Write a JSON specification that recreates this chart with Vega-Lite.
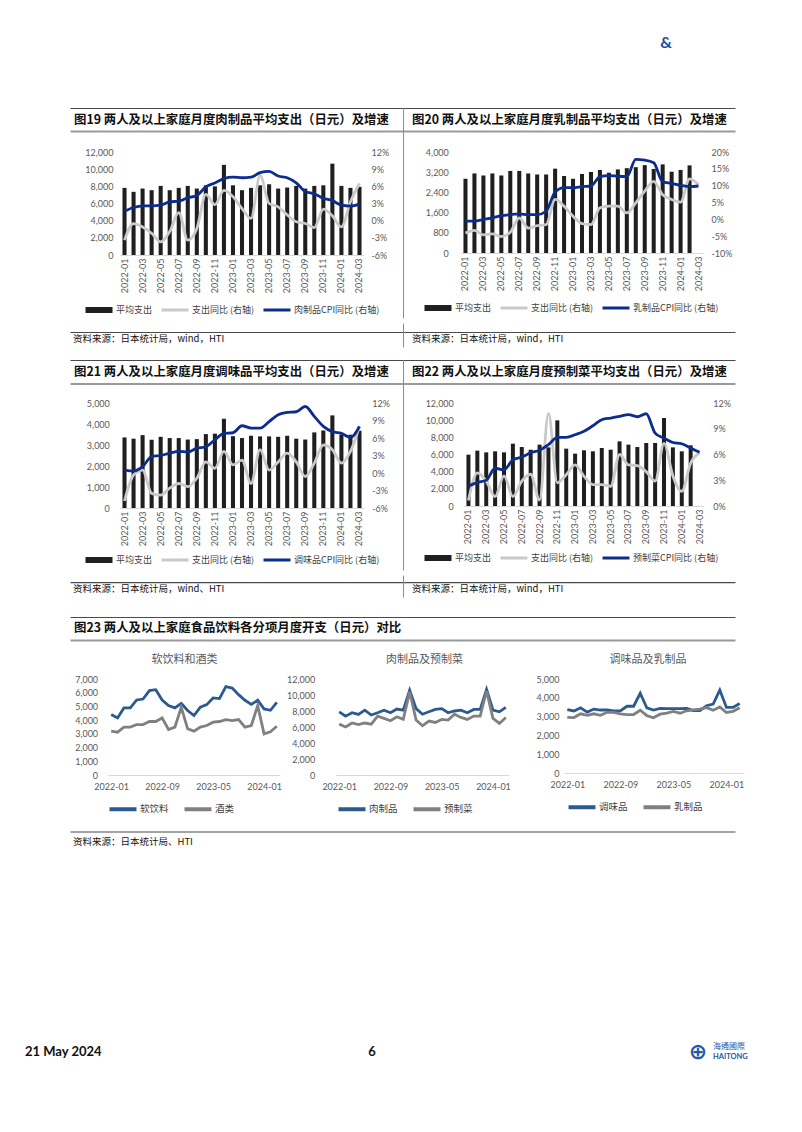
{
"$schema": "https://vega.github.io/schema/vega-lite/v6.json",
"background": "white",
"padding": {"left": 25, "top": 35, "right": 0, "bottom": 0},
"title": {"text": "21 May 2024", "orient": "bottom", "anchor": "start", "dx": -45, "offset": -19.5, "baseline": "top", "font": "Lato", "fontSize": 13, "fontWeight": "bold", "color": "#111111"},
"config": {
  "view": {"stroke": null},
  "axis": {"labelFont": "Lato", "labelFontSize": 9, "labelColor": "#595959", "grid": false},
  "legend": {"layout": {"bottom": {"anchor": "middle"}}, "labelLimit": 300}
},
"datasets": {
"f19": [
{"m":"2022-01","spend":7820,"yoy":-3.4,"cpi":1.65},{"m":"2022-02","spend":7360,"yoy":-0.5,"cpi":2.3},{"m":"2022-03","spend":7740,"yoy":-1.1,"cpi":2.6},{"m":"2022-04","spend":7550,"yoy":-2.2,"cpi":2.6},{"m":"2022-05","spend":8050,"yoy":-3.7,"cpi":2.7},{"m":"2022-06","spend":7550,"yoy":-1.9,"cpi":3.3},{"m":"2022-07","spend":7820,"yoy":1.4,"cpi":3.4},{"m":"2022-08","spend":8050,"yoy":-3.4,"cpi":4.0},{"m":"2022-09","spend":7740,"yoy":-1.4,"cpi":4.4},{"m":"2022-10","spend":8120,"yoy":4.6,"cpi":5.9},{"m":"2022-11","spend":8000,"yoy":2.8,"cpi":6.6},{"m":"2022-12","spend":10500,"yoy":5.3,"cpi":7.35},{"m":"2023-01","spend":8120,"yoy":4.2,"cpi":7.6},{"m":"2023-02","spend":7550,"yoy":2.1,"cpi":7.5},{"m":"2023-03","spend":7820,"yoy":0.4,"cpi":7.6},{"m":"2023-04","spend":8120,"yoy":7.9,"cpi":8.4},{"m":"2023-05","spend":8240,"yoy":3.0,"cpi":8.6},{"m":"2023-06","spend":7740,"yoy":2.4,"cpi":7.8},{"m":"2023-07","spend":7860,"yoy":1.0,"cpi":7.5},{"m":"2023-08","spend":8050,"yoy":-0.2,"cpi":6.6},{"m":"2023-09","spend":7740,"yoy":-0.5,"cpi":5.1},{"m":"2023-10","spend":8050,"yoy":-1.2,"cpi":4.7},{"m":"2023-11","spend":8120,"yoy":2.0,"cpi":3.9},{"m":"2023-12","spend":10640,"yoy":0.85,"cpi":3.5},{"m":"2024-01","spend":8050,"yoy":-1.1,"cpi":2.7},{"m":"2024-02","spend":7820,"yoy":3.3,"cpi":2.55},{"m":"2024-03","spend":7940,"yoy":6.5,"cpi":2.9}],
"f20": [
{"m":"2022-01","spend":2940,"yoy":-4.1,"cpi":-0.55},{"m":"2022-02","spend":3150,"yoy":-3.3,"cpi":-0.55},{"m":"2022-03","spend":3070,"yoy":-4.6,"cpi":-0.05},{"m":"2022-04","spend":3150,"yoy":-4.3,"cpi":0.45},{"m":"2022-05","spend":3070,"yoy":-5.1,"cpi":1.1},{"m":"2022-06","spend":3250,"yoy":-3.8,"cpi":1.4},{"m":"2022-07","spend":3250,"yoy":0.4,"cpi":1.6},{"m":"2022-08","spend":3150,"yoy":-2.6,"cpi":1.4},{"m":"2022-09","spend":3110,"yoy":-1.9,"cpi":1.4},{"m":"2022-10","spend":3110,"yoy":-1.6,"cpi":2.4},{"m":"2022-11","spend":3340,"yoy":5.9,"cpi":8.1},{"m":"2022-12","spend":3050,"yoy":3.9,"cpi":9.4},{"m":"2023-01","spend":2940,"yoy":0.9,"cpi":9.4},{"m":"2023-02","spend":3130,"yoy":-1.3,"cpi":9.7},{"m":"2023-03","spend":3210,"yoy":-1.6,"cpi":9.9},{"m":"2023-04","spend":3290,"yoy":3.4,"cpi":12.7},{"m":"2023-05","spend":3180,"yoy":3.9,"cpi":13.0},{"m":"2023-06","spend":3310,"yoy":3.9,"cpi":12.8},{"m":"2023-07","spend":3360,"yoy":1.9,"cpi":12.7},{"m":"2023-08","spend":3400,"yoy":4.9,"cpi":17.8},{"m":"2023-09","spend":3480,"yoy":8.4,"cpi":17.6},{"m":"2023-10","spend":3330,"yoy":11.3,"cpi":16.8},{"m":"2023-11","spend":3510,"yoy":7.3,"cpi":11.1},{"m":"2023-12","spend":3220,"yoy":5.9,"cpi":10.7},{"m":"2024-01","spend":3290,"yoy":5.1,"cpi":10.1},{"m":"2024-02","spend":3470,"yoy":12.0,"cpi":9.7},{"m":"2024-03","spend":null,"yoy":10.3,"cpi":9.9}],
"f21": [
{"m":"2022-01","spend":3360,"yoy":-4.8,"cpi":0.5},{"m":"2022-02","spend":3300,"yoy":-0.35,"cpi":0.35},{"m":"2022-03","spend":3470,"yoy":0.5,"cpi":1.1},{"m":"2022-04","spend":3250,"yoy":-3.5,"cpi":2.8},{"m":"2022-05","spend":3390,"yoy":-3.8,"cpi":3.0},{"m":"2022-06","spend":3330,"yoy":-2.6,"cpi":3.4},{"m":"2022-07","spend":3330,"yoy":-1.8,"cpi":3.7},{"m":"2022-08","spend":3260,"yoy":-2.35,"cpi":3.6},{"m":"2022-09","spend":3280,"yoy":-0.9,"cpi":4.25},{"m":"2022-10","spend":3520,"yoy":1.9,"cpi":4.5},{"m":"2022-11","spend":3540,"yoy":0.8,"cpi":5.7},{"m":"2022-12","spend":4250,"yoy":3.7,"cpi":6.8},{"m":"2023-01","spend":3420,"yoy":1.4,"cpi":6.9},{"m":"2023-02","spend":3330,"yoy":2.2,"cpi":8.1},{"m":"2023-03","spend":3440,"yoy":-1.8,"cpi":7.7},{"m":"2023-04","spend":3410,"yoy":4.0,"cpi":7.7},{"m":"2023-05","spend":3410,"yoy":0.5,"cpi":8.8},{"m":"2023-06","spend":3390,"yoy":1.9,"cpi":10.0},{"m":"2023-07","spend":3440,"yoy":3.4,"cpi":10.4},{"m":"2023-08","spend":3300,"yoy":1.9,"cpi":10.5},{"m":"2023-09","spend":3260,"yoy":-0.6,"cpi":11.4},{"m":"2023-10","spend":3600,"yoy":1.7,"cpi":9.7},{"m":"2023-11","spend":3690,"yoy":4.8,"cpi":8.0},{"m":"2023-12","spend":4410,"yoy":4.0,"cpi":7.1},{"m":"2024-01","spend":3490,"yoy":1.7,"cpi":6.8},{"m":"2024-02","spend":3490,"yoy":3.7,"cpi":6.1},{"m":"2024-03","spend":3680,"yoy":8.0,"cpi":8.0}],
"f22": [
{"m":"2022-01","spend":5980,"yoy":0.65,"cpi":2.3},{"m":"2022-02","spend":6450,"yoy":3.85,"cpi":2.75},{"m":"2022-03","spend":6250,"yoy":2.9,"cpi":3.0},{"m":"2022-04","spend":6370,"yoy":1.1,"cpi":4.4},{"m":"2022-05","spend":6250,"yoy":3.5,"cpi":4.2},{"m":"2022-06","spend":7260,"yoy":1.1,"cpi":5.4},{"m":"2022-07","spend":6870,"yoy":2.9,"cpi":5.7},{"m":"2022-08","spend":6560,"yoy":3.7,"cpi":6.2},{"m":"2022-09","spend":7150,"yoy":0.7,"cpi":6.5},{"m":"2022-10","spend":6830,"yoy":10.8,"cpi":7.15},{"m":"2022-11","spend":9980,"yoy":2.7,"cpi":8.0},{"m":"2022-12","spend":6680,"yoy":3.65,"cpi":8.0},{"m":"2023-01","spend":6100,"yoy":4.8,"cpi":8.3},{"m":"2023-02","spend":6490,"yoy":3.45,"cpi":8.7},{"m":"2023-03","spend":6370,"yoy":2.5,"cpi":9.35},{"m":"2023-04","spend":6760,"yoy":2.5,"cpi":10.05},{"m":"2023-05","spend":6560,"yoy":2.3,"cpi":10.25},{"m":"2023-06","spend":7530,"yoy":6.0,"cpi":10.45},{"m":"2023-07","spend":7150,"yoy":4.8,"cpi":10.65},{"m":"2023-08","spend":6870,"yoy":4.7,"cpi":10.4},{"m":"2023-09","spend":7340,"yoy":4.0,"cpi":10.75},{"m":"2023-10","spend":7340,"yoy":2.9,"cpi":8.5},{"m":"2023-11","spend":10250,"yoy":7.3,"cpi":7.9},{"m":"2023-12","spend":6830,"yoy":3.5,"cpi":7.4},{"m":"2024-01","spend":6370,"yoy":1.7,"cpi":7.25},{"m":"2024-02","spend":7070,"yoy":5.0,"cpi":6.75},{"m":"2024-03","spend":null,"yoy":6.2,"cpi":6.25}],
"f23": [
{"m":"2022-01","soft":4410,"alcohol":3200,"meat":7900,"prepared":6360,"seasoning":3370,"dairy":2960},
{"m":"2022-02","soft":4160,"alcohol":3120,"meat":7360,"prepared":6000,"seasoning":3300,"dairy":2950},
{"m":"2022-03","soft":4890,"alcohol":3490,"meat":7780,"prepared":6500,"seasoning":3470,"dairy":3150},
{"m":"2022-04","soft":4890,"alcohol":3490,"meat":7570,"prepared":6300,"seasoning":3240,"dairy":3070},
{"m":"2022-05","soft":5470,"alcohol":3680,"meat":8100,"prepared":6500,"seasoning":3400,"dairy":3150},
{"m":"2022-06","soft":5540,"alcohol":3680,"meat":7500,"prepared":6360,"seasoning":3350,"dairy":3070},
{"m":"2022-07","soft":6150,"alcohol":3900,"meat":7780,"prepared":7360,"seasoning":3350,"dairy":3230},
{"m":"2022-08","soft":6220,"alcohol":3900,"meat":8100,"prepared":7070,"seasoning":3300,"dairy":3230},
{"m":"2022-09","soft":5470,"alcohol":4160,"meat":7780,"prepared":6780,"seasoning":3300,"dairy":3140},
{"m":"2022-10","soft":5060,"alcohol":3320,"meat":8240,"prepared":7280,"seasoning":3550,"dairy":3110},
{"m":"2022-11","soft":4890,"alcohol":3490,"meat":8100,"prepared":6950,"seasoning":3550,"dairy":3110},
{"m":"2022-12","soft":5230,"alcohol":4940,"meat":10600,"prepared":10400,"seasoning":4240,"dairy":3340},
{"m":"2023-01","soft":4700,"alcohol":3370,"meat":8300,"prepared":6860,"seasoning":3460,"dairy":3050},
{"m":"2023-02","soft":4330,"alcohol":3200,"meat":7600,"prepared":6150,"seasoning":3350,"dairy":2940},
{"m":"2023-03","soft":4940,"alcohol":3490,"meat":7900,"prepared":6740,"seasoning":3440,"dairy":3130},
{"m":"2023-04","soft":5130,"alcohol":3610,"meat":8200,"prepared":6570,"seasoning":3420,"dairy":3190},
{"m":"2023-05","soft":5620,"alcohol":3850,"meat":8300,"prepared":6950,"seasoning":3420,"dairy":3280},
{"m":"2023-06","soft":5570,"alcohol":3900,"meat":7780,"prepared":6860,"seasoning":3420,"dairy":3180},
{"m":"2023-07","soft":6440,"alcohol":4040,"meat":8000,"prepared":7600,"seasoning":3440,"dairy":3310},
{"m":"2023-08","soft":6340,"alcohol":3970,"meat":8100,"prepared":7200,"seasoning":3320,"dairy":3360},
{"m":"2023-09","soft":5860,"alcohol":4040,"meat":7780,"prepared":6950,"seasoning":3320,"dairy":3400},
{"m":"2023-10","soft":5450,"alcohol":3490,"meat":8200,"prepared":7360,"seasoning":3580,"dairy":3480},
{"m":"2023-11","soft":5150,"alcohol":3610,"meat":8200,"prepared":7360,"seasoning":3670,"dairy":3340},
{"m":"2023-12","soft":5450,"alcohol":5060,"meat":10700,"prepared":10500,"seasoning":4410,"dairy":3510},
{"m":"2024-01","soft":4820,"alcohol":3000,"meat":8100,"prepared":7070,"seasoning":3490,"dairy":3220},
{"m":"2024-02","soft":4720,"alcohol":3150,"meat":7900,"prepared":6450,"seasoning":3490,"dairy":3280},
{"m":"2024-03","soft":5300,"alcohol":3550,"meat":8450,"prepared":7200,"seasoning":3700,"dairy":3470}]
},
"spacing": 0,
"resolve": {"scale": {"color": "independent"}},
"vconcat": [
{"spacing": 0, "resolve": {"scale": {"color": "independent"}}, "hconcat": [
 {"width": 333, "height": 113, "data": {"values": [{"t": "图19 两人及以上家庭月度肉制品平均支出（日元）及增速"}]},
  "layer": [
   {"mark": {"type": "text", "align": "left", "baseline": "middle", "font": "Noto Sans CJK SC", "fontWeight": "bold", "fontSize": 12.4, "color": "#111111", "dx": 4, "dy": 28.5},
    "encoding": {"x": {"datum": 0, "type": "quantitative", "scale": {"domain": [0, 1]}, "axis": {"orient": "bottom", "offset": -17, "domainColor": "#9a9a9a", "domainWidth": 2, "labels": false, "ticks": false, "grid": false, "title": null}}, "y": {"datum": 0.5, "type": "quantitative", "scale": {"domain": [0, 1]}, "axis": null}, "text": {"field": "t"}}},
   {"mark": {"type": "text"},
    "encoding": {"x": {"datum": 0, "type": "quantitative", "axis": {"orient": "top", "offset": -73, "domainColor": "#4a4a4a", "domainWidth": 1.2, "labels": false, "ticks": false, "grid": false, "title": null}}, "y": {"datum": 0.5, "type": "quantitative"}, "text": {"value": ""}}}
  ],
  "resolve": {"axis": {"x": "independent"}}},
 {"width": 332, "height": 113, "data": {"values": [{"t": "图20 两人及以上家庭月度乳制品平均支出（日元）及增速", "h": "&"}]},
  "layer": [
   {"mark": {"type": "text", "align": "left", "baseline": "middle", "font": "Noto Sans CJK SC", "fontWeight": "bold", "fontSize": 12.4, "color": "#111111", "dx": 9, "dy": -8},
    "encoding": {"x": {"datum": 0, "type": "quantitative", "scale": {"domain": [0, 1]}, "axis": {"orient": "bottom", "offset": -17, "domainColor": "#9a9a9a", "domainWidth": 2, "labels": false, "ticks": false, "grid": false, "title": null}}, "y": {"datum": 0.5, "type": "quantitative", "scale": {"domain": [0, 1], "range": [113, 73]}, "axis": {"orient": "left", "domain": true, "domainColor": "#8c8c8c", "domainWidth": 1, "labels": false, "ticks": false, "grid": false, "title": null}}, "text": {"field": "t"}}},
   {"mark": {"type": "text"},
    "encoding": {"x": {"datum": 0, "type": "quantitative", "axis": {"orient": "top", "offset": -73, "domainColor": "#4a4a4a", "domainWidth": 1.2, "labels": false, "ticks": false, "grid": false, "title": null}}, "y": {"datum": 0.5, "type": "quantitative"}, "text": {"value": ""}}},
   {"mark": {"type": "text", "align": "center", "baseline": "middle", "font": "Lato", "fontWeight": "bold", "fontSize": 16, "color": "#1f4e9c", "dy": -85},
    "encoding": {"x": {"datum": 0.792, "type": "quantitative", "axis": null}, "y": {"datum": 0.5, "type": "quantitative"}, "text": {"field": "h"}}}
  ],
  "resolve": {"axis": {"x": "independent"}}}
]},
{"spacing": 0, "resolve": {"scale": {"color": "independent"}}, "hconcat": [
 {"width": 333, "height": 103, "data": {"name": "f19"},
  "encoding": {"x": {"field": "m", "type": "ordinal", "scale": {"paddingInner": 0.55, "paddingOuter": 0.275, "range": [50, 294]}, "axis": {"values": ["2022-01","2022-03","2022-05","2022-07","2022-09","2022-11","2023-01","2023-03","2023-05","2023-07","2023-09","2023-11","2024-01","2024-03"], "labelAngle": -90, "labelPadding": 3, "ticks": false, "domainColor": "#d9d9d9", "title": null}}},
  "layer": [
   {"mark": {"type": "bar"},
    "encoding": {
     "y": {"field": "spend", "type": "quantitative", "scale": {"domain": [0, 12000], "nice": false}, "axis": {"values": [0,2000,4000,6000,8000,10000,12000], "format": ",.0f", "offset": -50, "labelPadding": 7, "domain": false, "ticks": false, "title": null}},
     "color": {"datum": "spend", "type": "nominal", "scale": {"domain": ["spend", "yoy", "cpi"], "range": ["#1f1f1f", "#c9c9c9", "#0c2d8e"]},
      "legend": {"orient": "bottom", "direction": "horizontal", "title": null, "offset": 12, "symbolType": "M-2.7,-0.6H2.7V0.6H-2.7Z", "symbolSize": 100, "symbolStrokeWidth": 0, "labelFont": "Noto Sans CJK SC", "labelFontSize": 9, "labelColor": "#404040", "labelOffset": 12, "columnPadding": 8,
       "labelExpr": "datum.value == 'spend' ? '平均支出' : datum.value == 'yoy' ? '支出同比 (右轴)' : '肉制品CPI同比 (右轴)'",
       "encode": {"symbols": {"update": {"shape": {"signal": "datum.value == 'spend' ? 'M-2.7,-0.6H2.7V0.6H-2.7Z' : 'M-2.7,-0.3H2.7V0.3H-2.7Z'"}, "fill": {"signal": "datum.value == 'spend' ? '#1f1f1f' : datum.value == 'yoy' ? '#c9c9c9' : '#0c2d8e'"}, "stroke": {"value": "transparent"}, "size": {"value": 100}, "opacity": {"value": 1}}}}}}}},
   {"transform": [{"fold": ["yoy", "cpi"], "as": ["k", "v"]}],
    "mark": {"type": "line", "interpolate": "monotone", "strokeWidth": 2.8},
    "encoding": {
     "y": {"field": "v", "type": "quantitative", "scale": {"domain": [-6, 12], "nice": false}, "axis": {"orient": "right", "offset": -39, "values": [-6,-3,0,3,6,9,12], "labelExpr": "datum.value + '%'", "labelPadding": 7, "domain": false, "ticks": false, "title": null}},
     "color": {"field": "k", "type": "nominal", "legend": {"title": null}}}}
  ],
  "resolve": {"scale": {"y": "independent"}}},
 {"width": 346, "height": 101, "data": {"name": "f20"},
  "encoding": {"x": {"field": "m", "type": "ordinal", "scale": {"paddingInner": 0.55, "paddingOuter": 0.275, "range": [58, 300]}, "axis": {"values": ["2022-01","2022-03","2022-05","2022-07","2022-09","2022-11","2023-01","2023-03","2023-05","2023-07","2023-09","2023-11","2024-01","2024-03"], "labelAngle": -90, "labelPadding": 3, "ticks": false, "domainColor": "#d9d9d9", "title": null}}},
  "layer": [
   {"mark": {"type": "bar"},
    "encoding": {
     "y": {"field": "spend", "type": "quantitative", "scale": {"domain": [0, 4000], "nice": false}, "axis": {"values": [0,800,1600,2400,3200,4000], "format": ",.0f", "offset": -58, "labelPadding": 12.7, "domain": false, "ticks": false, "title": null}},
     "color": {"datum": "spend", "type": "nominal", "scale": {"domain": ["spend", "yoy", "cpi"], "range": ["#1f1f1f", "#c9c9c9", "#0c2d8e"]},
      "legend": {"orient": "bottom", "direction": "horizontal", "title": null, "offset": 12, "symbolType": "M-2.7,-0.6H2.7V0.6H-2.7Z", "symbolSize": 100, "symbolStrokeWidth": 0, "labelFont": "Noto Sans CJK SC", "labelFontSize": 9, "labelColor": "#404040", "labelOffset": 12, "columnPadding": 8,
       "labelExpr": "datum.value == 'spend' ? '平均支出' : datum.value == 'yoy' ? '支出同比 (右轴)' : '乳制品CPI同比 (右轴)'",
       "encode": {"symbols": {"update": {"shape": {"signal": "datum.value == 'spend' ? 'M-2.7,-0.6H2.7V0.6H-2.7Z' : 'M-2.7,-0.3H2.7V0.3H-2.7Z'"}, "fill": {"signal": "datum.value == 'spend' ? '#1f1f1f' : datum.value == 'yoy' ? '#c9c9c9' : '#0c2d8e'"}, "stroke": {"value": "transparent"}, "size": {"value": 100}, "opacity": {"value": 1}}}}}}}},
   {"transform": [{"fold": ["yoy", "cpi"], "as": ["k", "v"]}],
    "mark": {"type": "line", "interpolate": "monotone", "strokeWidth": 2.8},
    "encoding": {
     "y": {"field": "v", "type": "quantitative", "scale": {"domain": [-10, 20], "nice": false}, "axis": {"orient": "right", "offset": -46, "values": [-10,-5,0,5,10,15,20], "labelExpr": "datum.value + '%'", "labelPadding": 8, "domain": false, "ticks": false, "title": null}},
     "color": {"field": "k", "type": "nominal", "legend": {"title": null}}}},
   {"mark": {"type": "text"},
    "encoding": {"y": {"datum": 0, "type": "quantitative", "scale": {"domain": [0, 1], "range": [166, -5]}, "axis": {"orient": "left", "domain": true, "domainColor": "#8c8c8c", "domainWidth": 1, "labels": false, "ticks": false, "grid": false, "title": null}}, "text": {"value": ""}}}
  ],
  "resolve": {"scale": {"y": "independent"}}}
]},
{"spacing": 0, "resolve": {"scale": {"color": "independent"}}, "hconcat": [
 {"width": 333, "height": 37, "data": {"values": [{"t": "资料来源：日本统计局，wind，HTI"}]},
  "mark": {"type": "text", "align": "left", "baseline": "middle", "font": "Noto Sans CJK SC", "fontSize": 9.5, "color": "#111111", "dx": 3, "dy": -2.5},
  "encoding": {"x": {"datum": 0, "type": "quantitative", "scale": {"domain": [0, 1]}, "axis": {"orient": "top", "offset": -9, "domainColor": "#4a4a4a", "domainWidth": 1.2, "labels": false, "ticks": false, "grid": false, "title": null}}, "y": {"datum": 0.5, "type": "quantitative", "scale": {"domain": [0, 1]}, "axis": null}, "text": {"field": "t"}}},
 {"width": 332, "height": 37, "data": {"values": [{"t": "资料来源：日本统计局，wind，HTI"}]},
  "mark": {"type": "text", "align": "left", "baseline": "middle", "font": "Noto Sans CJK SC", "fontSize": 9.5, "color": "#111111", "dx": 9, "dy": 4},
  "encoding": {"x": {"datum": 0, "type": "quantitative", "scale": {"domain": [0, 1]}, "axis": {"orient": "top", "offset": -9, "domainColor": "#4a4a4a", "domainWidth": 1.2, "labels": false, "ticks": false, "grid": false, "title": null}}, "y": {"datum": 0.5, "type": "quantitative", "scale": {"domain": [0, 1], "range": [24, 0]}, "axis": {"orient": "left", "domain": true, "domainColor": "#8c8c8c", "domainWidth": 1, "labels": false, "ticks": false, "grid": false, "title": null}}, "text": {"field": "t"}}}
]},
{"spacing": 0, "resolve": {"scale": {"color": "independent"}}, "hconcat": [
 {"width": 333, "height": 38.8, "data": {"values": [{"t": "图21 两人及以上家庭月度调味品平均支出（日元）及增速"}]},
  "layer": [
   {"mark": {"type": "text", "align": "left", "baseline": "middle", "font": "Noto Sans CJK SC", "fontWeight": "bold", "fontSize": 12.4, "color": "#111111", "dx": 4, "dy": -7.4},
    "encoding": {"x": {"datum": 0, "type": "quantitative", "scale": {"domain": [0, 1]}, "axis": {"orient": "bottom", "offset": -15.3, "domainColor": "#9a9a9a", "domainWidth": 2, "labels": false, "ticks": false, "grid": false, "title": null}}, "y": {"datum": 0.5, "type": "quantitative", "scale": {"domain": [0, 1]}, "axis": null}, "text": {"field": "t"}}},
   {"mark": {"type": "text"},
    "encoding": {"x": {"datum": 0, "type": "quantitative", "axis": {"orient": "top", "domainColor": "#4a4a4a", "domainWidth": 1.2, "labels": false, "ticks": false, "grid": false, "title": null}}, "y": {"datum": 0.5, "type": "quantitative"}, "text": {"value": ""}}}
  ],
  "resolve": {"axis": {"x": "independent"}}},
 {"width": 332, "height": 38.8, "data": {"values": [{"t": "图22 两人及以上家庭月度预制菜平均支出（日元）及增速"}]},
  "layer": [
   {"mark": {"type": "text", "align": "left", "baseline": "middle", "font": "Noto Sans CJK SC", "fontWeight": "bold", "fontSize": 12.4, "color": "#111111", "dx": 9, "dy": -7.4},
    "encoding": {"x": {"datum": 0, "type": "quantitative", "scale": {"domain": [0, 1]}, "axis": {"orient": "bottom", "offset": -15.3, "domainColor": "#9a9a9a", "domainWidth": 2, "labels": false, "ticks": false, "grid": false, "title": null}}, "y": {"datum": 0.5, "type": "quantitative", "scale": {"domain": [0, 1]}, "axis": {"orient": "left", "domain": true, "domainColor": "#8c8c8c", "domainWidth": 1, "labels": false, "ticks": false, "grid": false, "title": null}}, "text": {"field": "t"}}},
   {"mark": {"type": "text"},
    "encoding": {"x": {"datum": 0, "type": "quantitative", "axis": {"orient": "top", "domainColor": "#4a4a4a", "domainWidth": 1.2, "labels": false, "ticks": false, "grid": false, "title": null}}, "y": {"datum": 0.5, "type": "quantitative"}, "text": {"value": ""}}}
  ],
  "resolve": {"axis": {"x": "independent"}}}
]},
{"spacing": 0, "resolve": {"scale": {"color": "independent"}}, "hconcat": [
 {"width": 333, "height": 105, "data": {"name": "f21"},
  "encoding": {"x": {"field": "m", "type": "ordinal", "scale": {"paddingInner": 0.55, "paddingOuter": 0.275, "range": [50, 294]}, "axis": {"values": ["2022-01","2022-03","2022-05","2022-07","2022-09","2022-11","2023-01","2023-03","2023-05","2023-07","2023-09","2023-11","2024-01","2024-03"], "labelAngle": -90, "labelPadding": 3, "ticks": false, "domainColor": "#d9d9d9", "title": null}}},
  "layer": [
   {"mark": {"type": "bar"},
    "encoding": {
     "y": {"field": "spend", "type": "quantitative", "scale": {"domain": [0, 5000], "nice": false}, "axis": {"values": [0,1000,2000,3000,4000,5000], "format": ",.0f", "offset": -50, "labelPadding": 10.7, "domain": false, "ticks": false, "title": null}},
     "color": {"datum": "spend", "type": "nominal", "scale": {"domain": ["spend", "yoy", "cpi"], "range": ["#1f1f1f", "#c9c9c9", "#0c2d8e"]},
      "legend": {"orient": "bottom", "direction": "horizontal", "title": null, "offset": 9, "symbolType": "M-2.7,-0.6H2.7V0.6H-2.7Z", "symbolSize": 100, "symbolStrokeWidth": 0, "labelFont": "Noto Sans CJK SC", "labelFontSize": 9, "labelColor": "#404040", "labelOffset": 12, "columnPadding": 8,
       "labelExpr": "datum.value == 'spend' ? '平均支出' : datum.value == 'yoy' ? '支出同比 (右轴)' : '调味品CPI同比 (右轴)'",
       "encode": {"symbols": {"update": {"shape": {"signal": "datum.value == 'spend' ? 'M-2.7,-0.6H2.7V0.6H-2.7Z' : 'M-2.7,-0.3H2.7V0.3H-2.7Z'"}, "fill": {"signal": "datum.value == 'spend' ? '#1f1f1f' : datum.value == 'yoy' ? '#c9c9c9' : '#0c2d8e'"}, "stroke": {"value": "transparent"}, "size": {"value": 100}, "opacity": {"value": 1}}}}}}}},
   {"transform": [{"fold": ["yoy", "cpi"], "as": ["k", "v"]}],
    "mark": {"type": "line", "interpolate": "monotone", "strokeWidth": 2.8},
    "encoding": {
     "y": {"field": "v", "type": "quantitative", "scale": {"domain": [-6, 12], "nice": false}, "axis": {"orient": "right", "offset": -39, "values": [-6,-3,0,3,6,9,12], "labelExpr": "datum.value + '%'", "labelPadding": 7.7, "domain": false, "ticks": false, "title": null}},
     "color": {"field": "k", "type": "nominal", "legend": {"title": null}}}}
  ],
  "resolve": {"scale": {"y": "independent"}}},
 {"width": 346, "height": 103, "data": {"name": "f22"},
  "encoding": {"x": {"field": "m", "type": "ordinal", "scale": {"paddingInner": 0.55, "paddingOuter": 0.275, "range": [61, 301]}, "axis": {"values": ["2022-01","2022-03","2022-05","2022-07","2022-09","2022-11","2023-01","2023-03","2023-05","2023-07","2023-09","2023-11","2024-01","2024-03"], "labelAngle": -90, "labelPadding": 3, "ticks": false, "domainColor": "#d9d9d9", "title": null}}},
  "layer": [
   {"mark": {"type": "bar"},
    "encoding": {
     "y": {"field": "spend", "type": "quantitative", "scale": {"domain": [0, 12000], "nice": false}, "axis": {"values": [0,2000,4000,6000,8000,10000,12000], "format": ",.0f", "offset": -61, "labelPadding": 10.7, "domain": false, "ticks": false, "title": null}},
     "color": {"datum": "spend", "type": "nominal", "scale": {"domain": ["spend", "yoy", "cpi"], "range": ["#1f1f1f", "#c9c9c9", "#0c2d8e"]},
      "legend": {"orient": "bottom", "direction": "horizontal", "title": null, "offset": 9, "symbolType": "M-2.7,-0.6H2.7V0.6H-2.7Z", "symbolSize": 100, "symbolStrokeWidth": 0, "labelFont": "Noto Sans CJK SC", "labelFontSize": 9, "labelColor": "#404040", "labelOffset": 12, "columnPadding": 8,
       "labelExpr": "datum.value == 'spend' ? '平均支出' : datum.value == 'yoy' ? '支出同比 (右轴)' : '预制菜CPI同比 (右轴)'",
       "encode": {"symbols": {"update": {"shape": {"signal": "datum.value == 'spend' ? 'M-2.7,-0.6H2.7V0.6H-2.7Z' : 'M-2.7,-0.3H2.7V0.3H-2.7Z'"}, "fill": {"signal": "datum.value == 'spend' ? '#1f1f1f' : datum.value == 'yoy' ? '#c9c9c9' : '#0c2d8e'"}, "stroke": {"value": "transparent"}, "size": {"value": 100}, "opacity": {"value": 1}}}}}}}},
   {"transform": [{"fold": ["yoy", "cpi"], "as": ["k", "v"]}],
    "mark": {"type": "line", "interpolate": "monotone", "strokeWidth": 2.8},
    "encoding": {
     "y": {"field": "v", "type": "quantitative", "scale": {"domain": [0, 12], "nice": false}, "axis": {"orient": "right", "offset": -45, "values": [0,3,6,9,12], "labelExpr": "datum.value + '%'", "labelPadding": 8.7, "domain": false, "ticks": false, "title": null}},
     "color": {"field": "k", "type": "nominal", "legend": {"title": null}}}},
   {"mark": {"type": "text"},
    "encoding": {"y": {"datum": 0, "type": "quantitative", "scale": {"domain": [0, 1], "range": [167, -5]}, "axis": {"orient": "left", "domain": true, "domainColor": "#8c8c8c", "domainWidth": 1, "labels": false, "ticks": false, "grid": false, "title": null}}, "text": {"value": ""}}}
  ],
  "resolve": {"scale": {"y": "independent"}}}
]},
{"spacing": 0, "resolve": {"scale": {"color": "independent"}}, "hconcat": [
 {"width": 333, "height": 42, "data": {"values": [{"t": "资料来源：日本统计局，wind、HTI"}]},
  "mark": {"type": "text", "align": "left", "baseline": "middle", "font": "Noto Sans CJK SC", "fontSize": 9.5, "color": "#111111", "dx": 3, "dy": -6.8},
  "encoding": {"x": {"datum": 0, "type": "quantitative", "scale": {"domain": [0, 1]}, "axis": {"orient": "top", "offset": -7.2, "domainColor": "#4a4a4a", "domainWidth": 1.2, "labels": false, "ticks": false, "grid": false, "title": null}}, "y": {"datum": 0.5, "type": "quantitative", "scale": {"domain": [0, 1]}, "axis": null}, "text": {"field": "t"}}},
 {"width": 332, "height": 42, "data": {"values": [{"t": "资料来源：日本统计局，wind，HTI"}]},
  "mark": {"type": "text", "align": "left", "baseline": "middle", "font": "Noto Sans CJK SC", "fontSize": 9.5, "color": "#111111", "dx": 9, "dy": 3.1},
  "encoding": {"x": {"datum": 0, "type": "quantitative", "scale": {"domain": [0, 1]}, "axis": {"orient": "top", "offset": -7.2, "domainColor": "#4a4a4a", "domainWidth": 1.2, "labels": false, "ticks": false, "grid": false, "title": null}}, "y": {"datum": 0.5, "type": "quantitative", "scale": {"domain": [0, 1], "range": [22.2, 0]}, "axis": {"orient": "left", "domain": true, "domainColor": "#8c8c8c", "domainWidth": 1, "labels": false, "ticks": false, "grid": false, "title": null}}, "text": {"field": "t"}}}
]},
{"width": 665, "height": 36.5, "data": {"values": [{"t": "图23 两人及以上家庭食品饮料各分项月度开支（日元）对比"}]},
 "layer": [
  {"mark": {"type": "text", "align": "left", "baseline": "middle", "font": "Noto Sans CJK SC", "fontWeight": "bold", "fontSize": 12.4, "color": "#111111", "dx": 4, "dy": -7.25},
   "encoding": {"x": {"datum": 0, "type": "quantitative", "scale": {"domain": [0, 1]}, "axis": {"orient": "bottom", "offset": -13.5, "domainColor": "#9a9a9a", "domainWidth": 2, "labels": false, "ticks": false, "grid": false, "title": null}}, "y": {"datum": 0.5, "type": "quantitative", "scale": {"domain": [0, 1]}, "axis": null}, "text": {"field": "t"}}},
  {"mark": {"type": "text"},
   "encoding": {"x": {"datum": 0, "type": "quantitative", "axis": {"orient": "top", "domainColor": "#4a4a4a", "domainWidth": 1.2, "labels": false, "ticks": false, "grid": false, "title": null}}, "y": {"datum": 0.5, "type": "quantitative"}, "text": {"value": ""}}}
 ],
 "resolve": {"axis": {"x": "independent"}}},
{"spacing": 0, "resolve": {"scale": {"color": "independent"}}, "hconcat": [
 {"width": 212, "height": 96, "data": {"name": "f23"},
  "title": {"text": "软饮料和酒类", "font": "Noto Sans CJK SC", "fontSize": 11, "fontWeight": "normal", "color": "#595959", "anchor": "middle", "frame": "group", "offset": 10, "dx": 8.5},
  "transform": [{"fold": ["soft", "alcohol"], "as": ["k", "v"]}],
  "mark": {"type": "line", "strokeWidth": 2.8},
  "encoding": {
   "x": {"field": "m", "type": "ordinal", "scale": {"type": "point", "padding": 0.5, "range": [38, 210]}, "axis": {"values": ["2022-01","2022-09","2023-05","2024-01"], "labelAngle": 0, "labelPadding": 7.5, "ticks": false, "domainColor": "#d9d9d9", "title": null}},
   "y": {"field": "v", "type": "quantitative", "scale": {"domain": [0, 7000], "nice": false}, "axis": {"values": [0,1000,2000,3000,4000,5000,6000,7000], "format": ",.0f", "offset": -38, "labelPadding": 10.4, "domain": false, "ticks": false, "title": null}},
   "color": {"field": "k", "type": "nominal", "scale": {"domain": ["soft", "alcohol"], "range": ["#2b5a8e", "#808080"]},
    "legend": {"orient": "bottom", "direction": "horizontal", "title": null, "offset": 12, "symbolType": "M-2.7,-0.4H2.7V0.4H-2.7Z", "symbolSize": 100, "symbolStrokeWidth": 0, "labelFont": "Noto Sans CJK SC", "labelFontSize": 9.5, "labelColor": "#404040", "labelOffset": 12, "columnPadding": 15,
     "labelExpr": "datum.value == 'soft' ? '软饮料' : '酒类'",
     "encode": {"symbols": {"update": {"fill": {"signal": "datum.value == 'soft' ? '#2b5a8e' : '#808080'"}, "stroke": {"value": "transparent"}, "size": {"value": 100}, "opacity": {"value": 1}}}}}}}},
 {"width": 253, "height": 96, "data": {"name": "f23"},
  "title": {"text": "肉制品及预制菜", "font": "Noto Sans CJK SC", "fontSize": 11, "fontWeight": "normal", "color": "#595959", "anchor": "middle", "frame": "group", "offset": 10, "dx": 15},
  "transform": [{"fold": ["meat", "prepared"], "as": ["k", "v"]}],
  "mark": {"type": "line", "strokeWidth": 2.8},
  "encoding": {
   "x": {"field": "m", "type": "ordinal", "scale": {"type": "point", "padding": 0.5, "range": [53, 226]}, "axis": {"values": ["2022-01","2022-09","2023-05","2024-01"], "labelAngle": 0, "labelPadding": 7.5, "ticks": false, "domainColor": "#d9d9d9", "title": null}},
   "y": {"field": "v", "type": "quantitative", "scale": {"domain": [0, 12000], "nice": false}, "axis": {"values": [0,2000,4000,6000,8000,10000,12000], "format": ",.0f", "offset": -53, "labelPadding": 21.3, "domain": false, "ticks": false, "title": null}},
   "color": {"field": "k", "type": "nominal", "scale": {"domain": ["meat", "prepared"], "range": ["#2b5a8e", "#808080"]},
    "legend": {"orient": "bottom", "direction": "horizontal", "title": null, "offset": 12, "symbolType": "M-2.7,-0.4H2.7V0.4H-2.7Z", "symbolSize": 100, "symbolStrokeWidth": 0, "labelFont": "Noto Sans CJK SC", "labelFontSize": 9.5, "labelColor": "#404040", "labelOffset": 12, "columnPadding": 15,
     "labelExpr": "datum.value == 'meat' ? '肉制品' : '预制菜'",
     "encode": {"symbols": {"update": {"fill": {"signal": "datum.value == 'meat' ? '#2b5a8e' : '#808080'"}, "stroke": {"value": "transparent"}, "size": {"value": 100}, "opacity": {"value": 1}}}}}}}},
 {"width": 207, "height": 94, "data": {"name": "f23"},
  "title": {"text": "调味品及乳制品", "font": "Noto Sans CJK SC", "fontSize": 11, "fontWeight": "normal", "color": "#595959", "anchor": "middle", "frame": "group", "offset": 10, "dx": 8.5},
  "transform": [{"fold": ["seasoning", "dairy"], "as": ["k", "v"]}],
  "mark": {"type": "line", "strokeWidth": 2.8},
  "encoding": {
   "x": {"field": "m", "type": "ordinal", "scale": {"type": "point", "padding": 0.5, "range": [28, 207]}, "axis": {"values": ["2022-01","2022-09","2023-05","2024-01"], "labelAngle": 0, "labelPadding": 7.5, "ticks": false, "domainColor": "#d9d9d9", "title": null}},
   "y": {"field": "v", "type": "quantitative", "scale": {"domain": [0, 5000], "nice": false}, "axis": {"values": [0,1000,2000,3000,4000,5000], "format": ",.0f", "offset": -28, "labelPadding": 5, "domain": false, "ticks": false, "title": null}},
   "color": {"field": "k", "type": "nominal", "scale": {"domain": ["seasoning", "dairy"], "range": ["#2b5a8e", "#808080"]},
    "legend": {"orient": "bottom", "direction": "horizontal", "title": null, "offset": 12, "symbolType": "M-2.7,-0.4H2.7V0.4H-2.7Z", "symbolSize": 100, "symbolStrokeWidth": 0, "labelFont": "Noto Sans CJK SC", "labelFontSize": 9.5, "labelColor": "#404040", "labelOffset": 12, "columnPadding": 15,
     "labelExpr": "datum.value == 'seasoning' ? '调味品' : '乳制品'",
     "encode": {"symbols": {"update": {"fill": {"signal": "datum.value == 'seasoning' ? '#2b5a8e' : '#808080'"}, "stroke": {"value": "transparent"}, "size": {"value": 100}, "opacity": {"value": 1}}}}}}}}
]},
{"width": 665, "height": 251, "data": {"values": [{"t": "资料来源：日本统计局、HTI", "p": "6", "g": "⊕", "l1": "海通國際", "l2": "HAITONG"}]},
 "layer": [
  {"mark": {"type": "text", "align": "left", "baseline": "middle", "font": "Noto Sans CJK SC", "fontSize": 9.5, "color": "#111111", "dx": 3, "dy": -97.75},
   "encoding": {"x": {"datum": 0, "type": "quantitative", "scale": {"domain": [0, 1]}, "axis": {"orient": "top", "offset": -17.5, "domainColor": "#4a4a4a", "domainWidth": 1.2, "labels": false, "ticks": false, "grid": false, "title": null}}, "y": {"datum": 0.5, "type": "quantitative", "scale": {"domain": [0, 1]}, "axis": null}, "text": {"field": "t"}}},
  {"mark": {"type": "text", "align": "center", "baseline": "middle", "font": "Lato", "fontWeight": "bold", "fontSize": 13, "color": "#111111", "dx": -30.5, "dy": 112.5},
   "encoding": {"x": {"datum": 0.5, "type": "quantitative"}, "y": {"datum": 0.5, "type": "quantitative"}, "text": {"field": "p"}}},
  {"mark": {"type": "text", "align": "center", "baseline": "middle", "font": "DejaVu Sans", "fontWeight": "bold", "fontSize": 22, "color": "#1f5aa6", "dx": -37, "dy": 112.5},
   "encoding": {"x": {"datum": 1, "type": "quantitative"}, "y": {"datum": 0.5, "type": "quantitative"}, "text": {"field": "g"}}},
  {"mark": {"type": "text", "align": "left", "baseline": "middle", "font": "Noto Sans CJK TC", "fontSize": 8, "color": "#1f5aa6", "dx": -22, "dy": 107.5},
   "encoding": {"x": {"datum": 1, "type": "quantitative"}, "y": {"datum": 0.5, "type": "quantitative"}, "text": {"field": "l1"}}},
  {"mark": {"type": "text", "align": "left", "baseline": "middle", "font": "Lato", "fontWeight": "bold", "fontSize": 7.5, "color": "#1f5aa6", "dx": -22, "dy": 117.5},
   "encoding": {"x": {"datum": 1, "type": "quantitative"}, "y": {"datum": 0.5, "type": "quantitative"}, "text": {"field": "l2"}}}
 ]}
]
}
